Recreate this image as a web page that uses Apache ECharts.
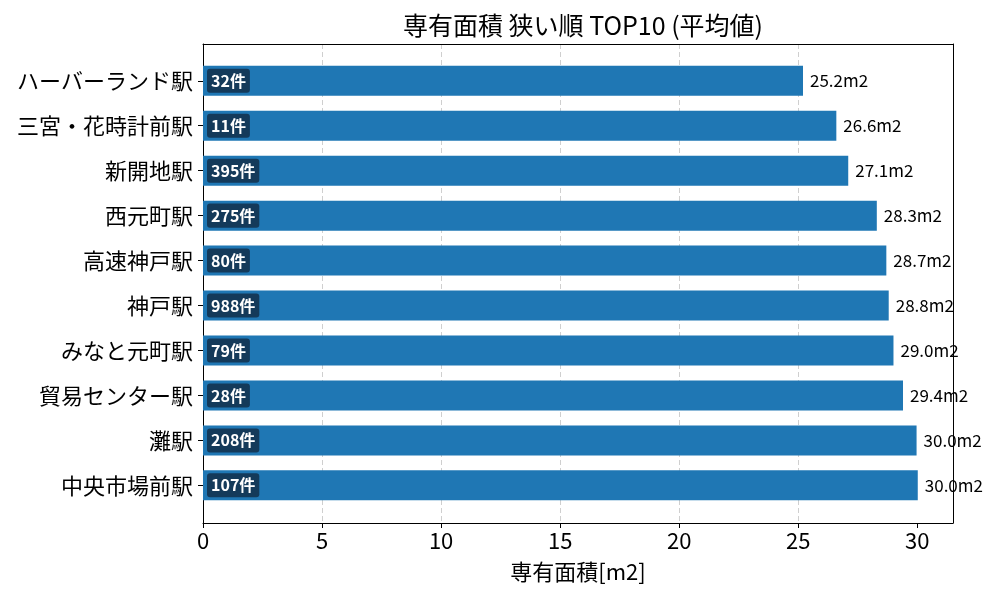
<!DOCTYPE html>
<html><head><meta charset="utf-8">
<script src="https://cdn.jsdelivr.net/npm/echarts@6/dist/echarts.min.js"></script>
<style>html,body{margin:0;padding:0;background:#fff}#c{width:1000px;height:600px}</style>
</head><body><div id="c"></div>
<script>
const stations = ['ハーバーランド駅','三宮・花時計前駅','新開地駅','西元町駅','高速神戸駅','神戸駅','みなと元町駅','貿易センター駅','灘駅','中央市場前駅'];
const avgArea = [25.2, 26.6, 27.1, 28.3, 28.7, 28.8, 29.0, 29.4, 29.97, 30.02];
const counts = [32, 11, 395, 275, 80, 988, 79, 28, 208, 107];
const xTicks = [0, 5, 10, 15, 20, 25, 30];

const FONT = '"Noto Sans CJK JP","Noto Sans",sans-serif';
const frameLine = {show: true, onZero: false, lineStyle: {color: '#000', width: 1}};
const chart = echarts.init(document.getElementById('c'));
chart.setOption({
  animation: false,
  backgroundColor: '#fff',
  textStyle: {fontFamily: FONT},
  title: {text: '専有面積 狭い順 TOP10 (平均値)', left: 578, textAlign: 'center', top: 8,
    textStyle: {fontSize: 25, fontWeight: 'normal', color: '#000', fontFamily: FONT}},
  grid: [
    {left: 203, right: 47, top: 44, bottom: 77},
    {left: 203, right: 47, top: 58.3, bottom: 92.2}
  ],
  xAxis: [
    {gridIndex: 0, type: 'value', min: 0, max: 31.5, position: 'bottom',
     axisLine: frameLine,
     axisTick: {show: true, length: 5, customValues: xTicks, lineStyle: {color: '#000'}},
     axisLabel: {fontSize: 22, color: '#000', margin: 7, fontFamily: FONT, customValues: xTicks},
     splitLine: {show: true, showMinLine: false, showMaxLine: false,
       lineStyle: {color: '#cfcfcf', type: [5, 3], width: 1}},
     name: '専有面積[m2]', nameLocation: 'middle', nameGap: 38,
     nameTextStyle: {fontSize: 22, color: '#000', fontFamily: FONT}},
    {gridIndex: 1, type: 'value', min: 0, max: 31.5, show: false},
    {gridIndex: 0, type: 'value', min: 0, max: 31.5, position: 'top',
     axisLine: frameLine, axisTick: {show: false}, axisLabel: {show: false}, splitLine: {show: false}}
  ],
  yAxis: [
    {gridIndex: 0, type: 'value', min: 0, max: 1, position: 'left',
     axisLine: frameLine, axisTick: {show: false}, axisLabel: {show: false}, splitLine: {show: false}},
    {gridIndex: 1, type: 'category', data: stations, inverse: true,
     axisLine: {show: false},
     axisTick: {show: true, alignWithLabel: true, length: 5, lineStyle: {color: '#000'}},
     axisLabel: {fontSize: 22, color: '#000', margin: 10, fontFamily: FONT}},
    {gridIndex: 0, type: 'value', min: 0, max: 1, position: 'right',
     axisLine: frameLine, axisTick: {show: false}, axisLabel: {show: false}, splitLine: {show: false}}
  ],
  series: [
    {type: 'bar', xAxisIndex: 1, yAxisIndex: 1, data: avgArea, barWidth: 30,
     itemStyle: {color: '#1f77b4'},
     label: {show: true, position: 'insideLeft', distance: 4,
       formatter: p => counts[p.dataIndex] + '件',
       color: '#fff', fontWeight: 'bold', fontSize: 16, fontFamily: FONT,
       backgroundColor: '#143a5a', borderRadius: 3, padding: [4, 4, 4, 4]}},
    {type: 'bar', xAxisIndex: 1, yAxisIndex: 1, data: avgArea, barWidth: 30, barGap: '-100%',
     itemStyle: {color: 'transparent'}, silent: true,
     label: {show: true, position: 'right', distance: 7,
       formatter: p => p.value.toFixed(1) + 'm2',
       color: '#000', fontSize: 17, fontFamily: FONT}}
  ]
});
</script></body></html>
